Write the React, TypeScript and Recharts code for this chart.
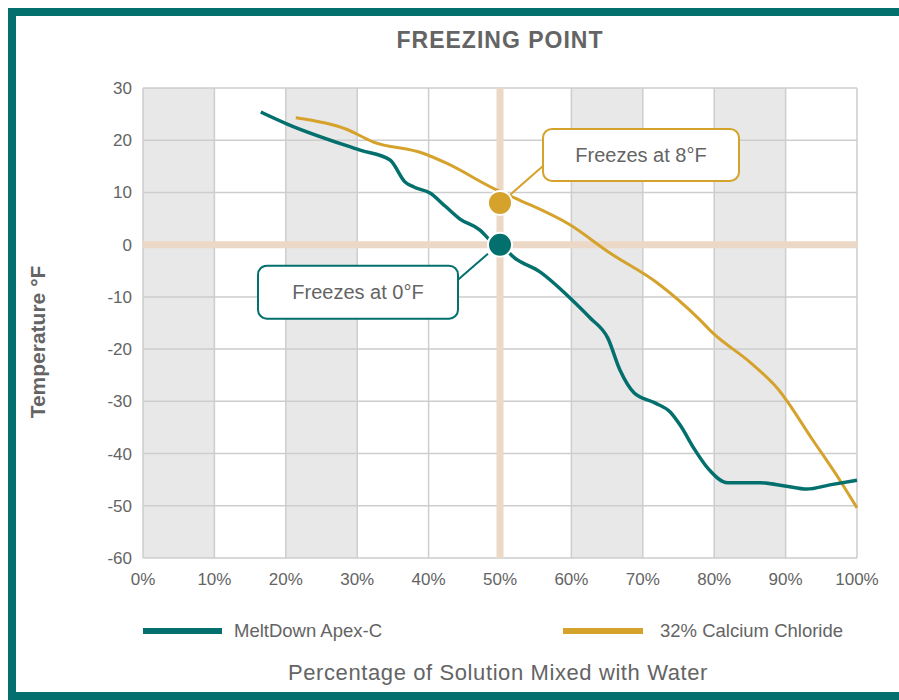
import React from "react";
import { CartesianGrid, Line, LineChart, ReferenceDot, ReferenceLine, XAxis, YAxis } from "recharts";

const meltdownPct = [16.5, 20.2, 30.4, 34.6, 36.7, 38, 40.2, 42.3, 44.4, 47.2, 48.6, 50, 52.1, 55.6, 59.8, 62.6, 65.1, 66.8, 68.8, 71.7, 73.8, 75.2, 77.3, 79.1, 81.9, 86.4, 89.9, 93, 96.2, 100];
const meltdownTemp = [25.4, 23.1, 18.1, 16.2, 12, 11, 9.9, 7.4, 4.9, 2.8, 0.9, 0, -2.6, -5.2, -10.2, -14, -17.9, -24, -28.4, -30.3, -32, -34.5, -39.3, -42.8, -45.6, -45.6, -46.2, -46.8, -46, -45.1];

const calciumPct = [21.4, 28.5, 32.2, 39.2, 42.5, 49.5, 52.8, 59.8, 65.4, 72, 78, 79.8, 85, 88.9, 93.8, 97.6, 100];
const calciumTemp = [24.3, 22.1, 19.7, 17.5, 15.6, 10.5, 8.5, 3.8, -1.6, -7.3, -14.4, -16.9, -22.5, -27.6, -37.4, -45.1, -50.4];

const xTicks = [0, 10, 20, 30, 40, 50, 60, 70, 80, 90, 100];
const yTicks = [30, 20, 10, 0, -10, -20, -30, -40, -50, -60];

const seriesNames = ["MeltDown Apex-C", "32% Calcium Chloride"];
const freezePct = 50;
const freezeTemps = [0, 8];

const TEAL = "#03706e";
const GOLD = "#d5a22c";
const TEXT = "#646464";
const FONT = "'Liberation Sans', Arial, sans-serif";
const bandFills = ["#e8e8e8", "#ffffff", "#e8e8e8", "#ffffff", "#ffffff", "#ffffff", "#e8e8e8", "#ffffff", "#e8e8e8", "#ffffff"];

const meltdown = meltdownPct.map((pct, i) => ({ pct, temp: meltdownTemp[i] }));
const calcium = calciumPct.map((pct, i) => ({ pct, temp: calciumTemp[i] }));

type CalloutProps = {
  cx?: number;
  cy?: number;
  color: string;
  text: string;
  box: { dx: number; dy: number; w: number; h: number };
  lead: [number, number, number, number];
};

function Callout({ cx = 0, cy = 0, color, text, box, lead }: CalloutProps) {
  return (
    <g>
      <line x1={cx + lead[0]} y1={cy + lead[1]} x2={cx + lead[2]} y2={cy + lead[3]} stroke={color} strokeWidth={2} />
      <rect x={cx + box.dx} y={cy + box.dy} width={box.w} height={box.h} rx={9} fill="#fff" stroke={color} strokeWidth={2} />
      <text
        x={cx + box.dx + box.w / 2}
        y={cy + box.dy + box.h / 2 + 7}
        textAnchor="middle"
        fontSize={20}
        fill={TEXT}
        fontFamily={FONT}
      >
        {text}
      </text>
      <circle cx={cx} cy={cy} r={12} fill={color} stroke="#fff" strokeWidth={2} />
    </g>
  );
}

export default function App() {
  return (
    <div style={{ position: "fixed", left: 8, top: 8, right: 0, bottom: 0, overflow: "hidden" }}>
      <div
        style={{
          position: "relative",
          width: 920,
          height: 676,
          borderTop: `8px solid ${TEAL}`,
          borderLeft: `8px solid ${TEAL}`,
          borderBottom: `8px solid ${TEAL}`,
          background: "#fff",
          fontFamily: FONT,
        }}
      >
        <LineChart width={875} height={676} margin={{ top: 72, right: 34, bottom: 104, left: 0 }}>
          <CartesianGrid stroke="#cdcdcd" strokeWidth={1.5} verticalFill={bandFills} fillOpacity={1} />
          <XAxis
            type="number"
            dataKey="pct"
            domain={[0, 100]}
            ticks={xTicks}
            tickFormatter={(v) => `${v}%`}
            axisLine={false}
            tickLine={false}
            tickSize={8}
            tickMargin={7}
            height={30}
            tick={{ fill: TEXT, fontSize: 17, fontFamily: FONT }}
          />
          <YAxis
            type="number"
            domain={[-60, 30]}
            ticks={yTicks}
            axisLine={false}
            tickLine={false}
            tickSize={8}
            tickMargin={3}
            width={127}
            tick={{ fill: TEXT, fontSize: 17, fontFamily: FONT }}
          />
          <ReferenceLine x={freezePct} stroke="#ecd8c6" strokeWidth={7} />
          <ReferenceLine y={0} stroke="#ecd8c6" strokeWidth={7} />
          <Line
            data={calcium}
            dataKey="temp"
            name={seriesNames[1]}
            type="monotone"
            stroke={GOLD}
            strokeWidth={3}
            dot={false}
            isAnimationActive={false}
          />
          <Line
            data={meltdown}
            dataKey="temp"
            name={seriesNames[0]}
            type="monotone"
            stroke={TEAL}
            strokeWidth={3.5}
            dot={false}
            isAnimationActive={false}
          />
          <ReferenceDot
            x={freezePct}
            y={freezeTemps[1]}
            r={12}
            shape={(p: any) => (
              <Callout
                cx={p.cx}
                cy={p.cy}
                color={GOLD}
                text={`Freezes at ${freezeTemps[1]}°F`}
                box={{ dx: 43, dy: -74, w: 196, h: 52 }}
                lead={[10, -8, 43, -37]}
              />
            )}
          />
          <ReferenceDot
            x={freezePct}
            y={freezeTemps[0]}
            r={12}
            shape={(p: any) => (
              <Callout
                cx={p.cx}
                cy={p.cy}
                color={TEAL}
                text={`Freezes at ${freezeTemps[0]}°F`}
                box={{ dx: -242, dy: 21, w: 200, h: 53 }}
                lead={[-12, 9, -42, 35]}
              />
            )}
          />
        </LineChart>
        <svg
          width={875}
          height={676}
          style={{ position: "absolute", left: 0, top: 0, pointerEvents: "none" }}
          fontFamily={FONT}
        >
          <text x={484} y={32} textAnchor="middle" fontSize={23} fontWeight="bold" letterSpacing={1} fill={TEXT}>
            FREEZING POINT
          </text>
          <text
            x={21}
            y={326}
            transform="rotate(-90 21 326)"
            textAnchor="middle"
            dominantBaseline="central"
            fontSize={21}
            fontWeight="bold"
            fill={TEXT}
          >
            Temperature °F
          </text>
          <line x1={127} y1={615} x2={206} y2={615} stroke={TEAL} strokeWidth={6} />
          <text x={218} y={621} fontSize={18.5} fill={TEXT}>
            {seriesNames[0]}
          </text>
          <line x1={547} y1={615} x2={627} y2={615} stroke={GOLD} strokeWidth={6} />
          <text x={644} y={621} fontSize={18.5} fill={TEXT}>
            {seriesNames[1]}
          </text>
          <text x={482} y={664} textAnchor="middle" fontSize={22} letterSpacing={0.6} fill={TEXT}>
            Percentage of Solution Mixed with Water
          </text>
        </svg>
      </div>
    </div>
  );
}
